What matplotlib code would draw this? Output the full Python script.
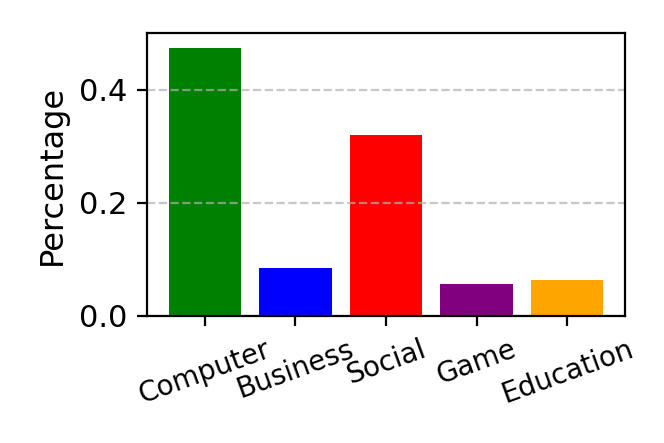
import matplotlib

matplotlib.use("Agg")
import matplotlib.pyplot as plt

categories = ["Computer", "Business", "Social", "Game", "Education"]
percentages = [0.474, 0.085, 0.319, 0.057, 0.064]
colors = ["green", "blue", "red", "purple", "orange"]


def main():
    fig = plt.figure(figsize=(3.32, 2.215), dpi=200)
    ax = fig.add_axes([0.2214, 0.2867, 0.7199, 0.6388])
    ax.bar(categories, percentages, color=colors)
    ax.set_ylim(0, 0.5)
    ax.set_yticks([0.0, 0.2, 0.4])
    ax.set_ylabel("Percentage", fontsize=11.5)
    ax.tick_params(axis="y", labelsize=11)
    ax.tick_params(axis="x", labelsize=10)
    ax.yaxis.grid(True, linestyle="--", color="#b0b0b0", alpha=0.7)
    plt.setp(ax.get_xticklabels(), rotation=20)
    fig.savefig("out.png", dpi=200)


if __name__ == "__main__":
    main()
